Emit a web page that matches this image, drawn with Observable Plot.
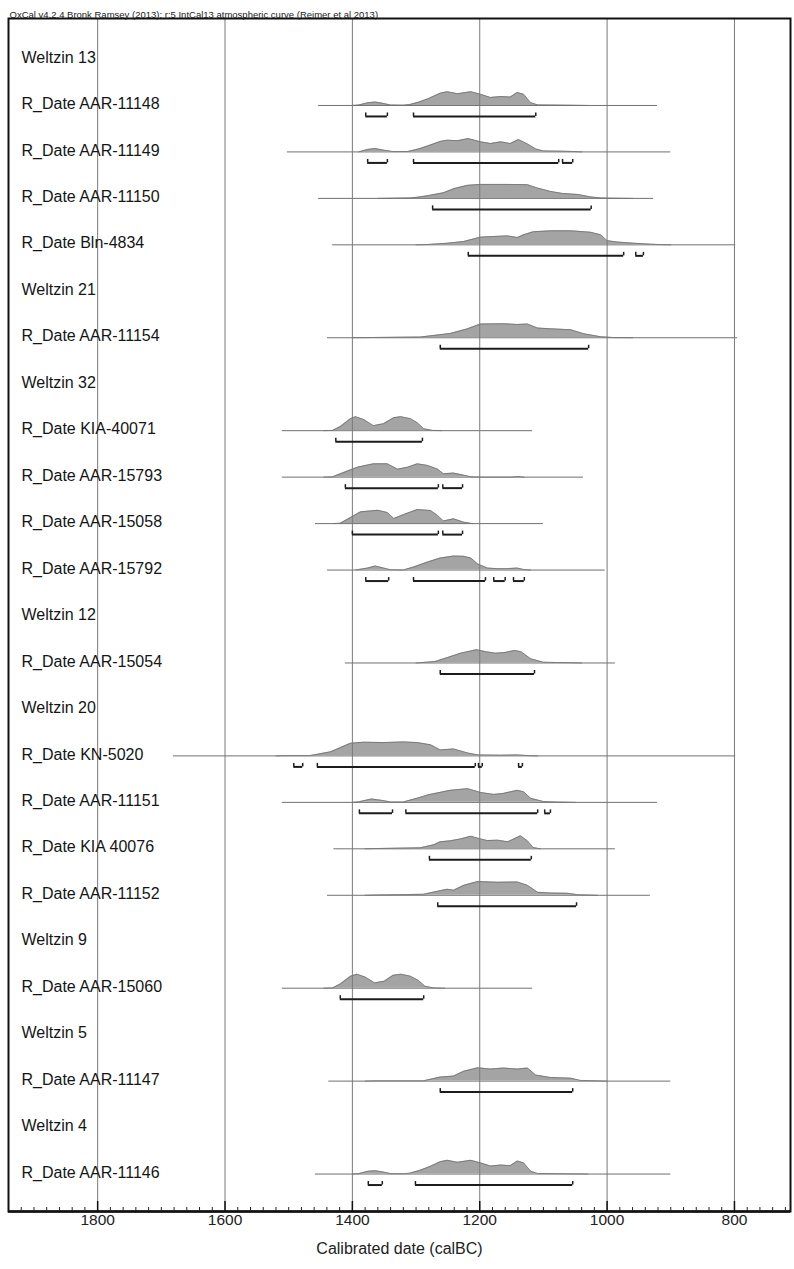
<!DOCTYPE html>
<html><head><meta charset="utf-8">
<script src="https://cdn.jsdelivr.net/npm/d3@7"></script>
<script src="https://cdn.jsdelivr.net/npm/@observablehq/plot@0.6"></script>
<style>body{margin:0;background:#fff;}</style>
</head><body><div id="chart"></div>
<script>
const headerText = "OxCal v4.2.4 Bronk Ramsey (2013); r:5 IntCal13 atmospheric curve (Reimer et al 2013)";
const axisTitle = "Calibrated date (calBC)";
const majorTicks = [1800, 1600, 1400, 1200, 1000, 800];

const rowLabels = [
  "Weltzin 13", "R_Date AAR-11148", "R_Date AAR-11149", "R_Date AAR-11150", "R_Date Bln-4834",
  "Weltzin 21", "R_Date AAR-11154", "Weltzin 32", "R_Date KIA-40071", "R_Date AAR-15793",
  "R_Date AAR-15058", "R_Date AAR-15792", "Weltzin 12", "R_Date AAR-15054", "Weltzin 20",
  "R_Date KN-5020", "R_Date AAR-11151", "R_Date KIA 40076", "R_Date AAR-11152", "Weltzin 9",
  "R_Date AAR-15060", "Weltzin 5", "R_Date AAR-11147", "Weltzin 4", "R_Date AAR-11146"
];

// thin line: calculated range of each date (calBC)
const spans = [
  ["R_Date AAR-11148", 1453, 921], ["R_Date AAR-11149", 1502, 900], ["R_Date AAR-11150", 1453, 927],
  ["R_Date Bln-4834", 1431, 798], ["R_Date AAR-11154", 1439, 795], ["R_Date KIA-40071", 1510, 1117],
  ["R_Date AAR-15793", 1510, 1037], ["R_Date AAR-15058", 1458, 1100], ["R_Date AAR-15792", 1439, 1003],
  ["R_Date AAR-15054", 1411, 987], ["R_Date KN-5020", 1681, 798], ["R_Date AAR-11151", 1510, 921],
  ["R_Date KIA 40076", 1429, 987], ["R_Date AAR-11152", 1439, 932], ["R_Date AAR-15060", 1510, 1117],
  ["R_Date AAR-11147", 1437, 900], ["R_Date AAR-11146", 1458, 900]
];

// 95.4% ranges (calBC)
const hpdRanges = [
  ["R_Date AAR-11148", 1379, 1345], ["R_Date AAR-11148", 1304, 1112],
  ["R_Date AAR-11149", 1376, 1345], ["R_Date AAR-11149", 1304, 1076], ["R_Date AAR-11149", 1070, 1054],
  ["R_Date AAR-11150", 1274, 1025],
  ["R_Date Bln-4834", 1218, 974], ["R_Date Bln-4834", 955, 943],
  ["R_Date AAR-11154", 1262, 1029],
  ["R_Date KIA-40071", 1426, 1290],
  ["R_Date AAR-15793", 1411, 1265], ["R_Date AAR-15793", 1258, 1227],
  ["R_Date AAR-15058", 1400, 1265], ["R_Date AAR-15058", 1258, 1227],
  ["R_Date AAR-15792", 1379, 1343], ["R_Date AAR-15792", 1304, 1191], ["R_Date AAR-15792", 1178, 1160], ["R_Date AAR-15792", 1147, 1130],
  ["R_Date AAR-15054", 1262, 1114],
  ["R_Date KN-5020", 1492, 1478], ["R_Date KN-5020", 1455, 1207], ["R_Date KN-5020", 1202, 1196], ["R_Date KN-5020", 1139, 1133],
  ["R_Date AAR-11151", 1389, 1337], ["R_Date AAR-11151", 1316, 1109], ["R_Date AAR-11151", 1098, 1089],
  ["R_Date KIA 40076", 1279, 1119],
  ["R_Date AAR-11152", 1266, 1048],
  ["R_Date AAR-15060", 1419, 1288],
  ["R_Date AAR-11147", 1262, 1054],
  ["R_Date AAR-11146", 1375, 1353], ["R_Date AAR-11146", 1301, 1054]
];

// probability profiles: [calBC, relative probability]
const AAR_11148 = [[1400,0],[1390,0.03],[1375,0.2],[1364,0.24],[1352,0.15],[1340,0.03],[1320,0.02],[1310,0.06],[1295,0.25],[1280,0.5],[1262,0.88],[1251,0.98],[1235,0.84],[1214,0.98],[1199,0.8],[1183,0.57],[1167,0.64],[1152,0.6],[1141,0.93],[1131,0.8],[1120,0.2],[1109,0.04],[1053,0.01],[1030,0]];
const AAR_11149 = [[1390,0],[1376,0.18],[1364,0.24],[1350,0.12],[1335,0.02],[1313,0.03],[1295,0.22],[1280,0.45],[1262,0.75],[1251,0.84],[1235,0.8],[1218,0.95],[1199,0.72],[1183,0.6],[1167,0.72],[1152,0.6],[1139,0.88],[1125,0.57],[1112,0.21],[1100,0.07],[1070,0.05],[1053,0.03],[1040,0]];
const AAR_11150 = [[1360,0],[1340,0.01],[1310,0.03],[1298,0.08],[1280,0.2],[1257,0.4],[1240,0.7],[1219,0.93],[1199,1.0],[1160,1.0],[1125,0.98],[1110,0.75],[1089,0.5],[1070,0.35],[1046,0.28],[1025,0.1],[1010,0.03],[990,0.01],[960,0]];
const Bln_4834 = [[1300,0],[1282,0.02],[1250,0.12],[1225,0.24],[1199,0.55],[1178,0.6],[1156,0.64],[1141,0.52],[1131,0.72],[1116,0.93],[1089,1.0],[1057,1.0],[1026,0.9],[1010,0.72],[1000,0.3],[984,0.2],[959,0.12],[932,0.05],[912,0.01],[900,0]];
const AAR_11154 = [[1400,0],[1367,0.02],[1293,0.05],[1246,0.31],[1219,0.64],[1199,0.98],[1163,1.0],[1141,0.95],[1125,0.98],[1109,0.69],[1089,0.64],[1057,0.57],[1037,0.29],[1010,0.07],[990,0.01],[960,0]];
const KIA_40071 = [[1445,0],[1431,0.02],[1419,0.29],[1403,0.86],[1395,1.0],[1382,0.79],[1367,0.36],[1351,0.5],[1335,0.93],[1324,1.0],[1309,0.86],[1298,0.57],[1288,0.14],[1274,0.02],[1260,0]];
const AAR_15793 = [[1445,0],[1431,0.02],[1408,0.43],[1392,0.71],[1367,0.95],[1345,0.95],[1329,0.57],[1313,0.71],[1298,0.95],[1282,0.84],[1266,0.57],[1257,0.24],[1241,0.29],[1225,0.14],[1214,0.02],[1195,0],[1150,0],[1141,0.04],[1130,0]];
const AAR_15058 = [[1430,0],[1419,0.02],[1403,0.43],[1387,0.84],[1360,0.95],[1345,0.79],[1335,0.36],[1320,0.64],[1298,1.0],[1277,0.93],[1266,0.57],[1257,0.19],[1241,0.34],[1225,0.1],[1212,0]];
const AAR_15792 = [[1395,0],[1376,0.14],[1364,0.29],[1351,0.14],[1340,0.02],[1320,0],[1304,0.21],[1282,0.57],[1262,0.86],[1241,1.0],[1225,0.98],[1214,0.86],[1203,0.43],[1188,0.14],[1172,0.1],[1156,0.1],[1141,0.14],[1131,0.04],[1120,0]];
const AAR_15054 = [[1300,0],[1270,0.1],[1250,0.4],[1230,0.7],[1205,0.95],[1190,0.8],[1175,0.7],[1160,0.75],[1145,0.9],[1135,0.8],[1120,0.3],[1100,0.05],[1060,0.02],[1040,0]];
const KN_5020 = [[1520,0],[1502,0.02],[1466,0.02],[1434,0.29],[1403,0.9],[1382,0.98],[1351,0.95],[1320,1.0],[1298,0.95],[1277,0.79],[1262,0.43],[1241,0.5],[1219,0.21],[1203,0.07],[1167,0.05],[1141,0.07],[1120,0.01],[1109,0]];
const AAR_11151 = [[1400,0],[1389,0.05],[1370,0.24],[1355,0.15],[1340,0.03],[1320,0.03],[1298,0.3],[1280,0.55],[1246,0.86],[1219,0.98],[1199,0.71],[1178,0.57],[1163,0.64],[1141,0.86],[1131,0.75],[1120,0.29],[1100,0.06],[1080,0.03],[1050,0]];
const KIA_40076 = [[1380,0],[1360,0.02],[1293,0.07],[1272,0.29],[1262,0.5],[1246,0.57],[1230,0.71],[1214,0.9],[1199,0.71],[1188,0.59],[1172,0.62],[1156,0.5],[1136,0.93],[1125,0.57],[1116,0.09],[1105,0]];
const AAR_11152 = [[1380,0],[1367,0.02],[1288,0.07],[1266,0.29],[1251,0.43],[1241,0.36],[1225,0.71],[1203,0.98],[1172,0.93],[1141,0.95],[1125,0.71],[1109,0.21],[1089,0.16],[1062,0.14],[1046,0.04],[1015,0]];
const AAR_15060 = [[1445,0],[1431,0.02],[1419,0.3],[1403,0.85],[1393,1.0],[1380,0.8],[1365,0.38],[1350,0.5],[1336,0.92],[1324,1.0],[1309,0.86],[1296,0.55],[1286,0.14],[1272,0.02],[1255,0]];
const AAR_11147 = [[1380,0],[1367,0.02],[1288,0.02],[1262,0.29],[1241,0.36],[1225,0.71],[1203,0.95],[1183,0.86],[1163,0.93],[1141,0.86],[1125,0.93],[1112,0.43],[1089,0.26],[1057,0.21],[1042,0.05],[1015,0.02],[1000,0]];
const AAR_11146 = [[1400,0],[1390,0.03],[1375,0.2],[1364,0.24],[1352,0.15],[1340,0.03],[1320,0.02],[1310,0.06],[1295,0.25],[1280,0.5],[1262,0.88],[1251,0.98],[1235,0.84],[1214,0.98],[1199,0.8],[1183,0.57],[1167,0.64],[1152,0.6],[1141,0.93],[1131,0.8],[1120,0.2],[1109,0.04],[1053,0.01],[1030,0]];

const curves = [
  ["R_Date AAR-11148", AAR_11148], ["R_Date AAR-11149", AAR_11149], ["R_Date AAR-11150", AAR_11150],
  ["R_Date Bln-4834", Bln_4834], ["R_Date AAR-11154", AAR_11154], ["R_Date KIA-40071", KIA_40071],
  ["R_Date AAR-15793", AAR_15793], ["R_Date AAR-15058", AAR_15058], ["R_Date AAR-15792", AAR_15792],
  ["R_Date AAR-15054", AAR_15054], ["R_Date KN-5020", KN_5020], ["R_Date AAR-11151", AAR_11151],
  ["R_Date KIA 40076", KIA_40076], ["R_Date AAR-11152", AAR_11152], ["R_Date AAR-15060", AAR_15060],
  ["R_Date AAR-11147", AAR_11147], ["R_Date AAR-11146", AAR_11146]
];

// ---- layout (pixels converted to row units) ----
const W = 794, Hpx = 1269;
const mL = 8, mR = 4, mT = 18, mB = 58;
const rowPx = 46.46, firstRowPx = 57;
const yTop = (mT - firstRowPx) / rowPx;
const yBot = (Hpx - mB - firstRowPx) / rowPx;
const u = px => px / rowPx;
const baseOff = u(1.5), peakH = u(14), barOff = u(12.5), capH = u(3.5);

const rowOf = new Map(rowLabels.map((l, i) => [l, i]));
const pts = curves.flatMap(([name, arr]) => arr.map(([year, p]) => ({name, year, p, row: rowOf.get(name)})));
const caps = hpdRanges.flatMap(d => [{name: d[0], x: d[1]}, {name: d[0], x: d[2]}]);
const minorTicks = d3.range(720, 1940, 20).filter(v => v % 200 !== 0);
const font = "'Liberation Sans', Arial, Helvetica, sans-serif";

const chart = Plot.plot({
  width: W, height: Hpx,
  marginLeft: mL, marginRight: mR, marginTop: mT, marginBottom: mB,
  style: {fontFamily: font, background: "#fff", color: "#111"},
  x: {domain: [1940, 712], range: [mL, W - mR]},
  y: {domain: [yTop, yBot], range: [mT, Hpx - mB], axis: null},
  marks: [
    Plot.ruleY(spans, {x1: d => d[1], x2: d => d[2], y: d => rowOf.get(d[0]) + baseOff, stroke: "#707070", strokeWidth: 1}),
    Plot.area(pts, {x1: "year", y1: d => d.row + baseOff, y2: d => d.row + baseOff - d.p * peakH, z: "name", fill: "#a4a4a4"}),
    Plot.line(pts, {x: "year", y: d => d.row + baseOff - d.p * peakH, z: "name", stroke: "#707070", strokeWidth: 0.8}),
    Plot.ruleX(majorTicks, {stroke: "#7a7a7a", strokeWidth: 1}),
    Plot.ruleY(hpdRanges, {x1: d => d[1], x2: d => d[2], y: d => rowOf.get(d[0]) + barOff, stroke: "#1c1c1c", strokeWidth: 2}),
    Plot.ruleX(caps, {x: "x", y1: d => rowOf.get(d.name) + barOff, y2: d => rowOf.get(d.name) + barOff - capH, stroke: "#1c1c1c", strokeWidth: 1.5}),
    Plot.text(rowLabels, {y: (d, i) => i, text: d => d, frameAnchor: "left", dx: 13, textAnchor: "start", fontSize: 16, fill: "#151515"}),
    Plot.frame({stroke: "#111", strokeWidth: 2}),
    Plot.ruleY([yBot], {stroke: "#111", strokeWidth: 2.5}),
    Plot.ruleX(majorTicks, {y1: yBot, y2: yBot - u(10), stroke: "#111", strokeWidth: 1.5}),
    Plot.ruleX(minorTicks, {y1: yBot, y2: yBot - u(4), stroke: "#222", strokeWidth: 1}),
    Plot.axisX(majorTicks, {tickSize: 0, tickPadding: 2, fontSize: 15.5, tickFormat: d => String(d), label: null, fill: "#222"}),
    Plot.text([axisTitle], {frameAnchor: "bottom", dy: 42, fontSize: 16, fill: "#222"}),
    Plot.text([headerText], {frameAnchor: "top-left", dx: 1, dy: -7, fontSize: 9.5, textAnchor: "start", fill: "#222"})
  ]
});
document.getElementById("chart").appendChild(chart);
</script>
</body></html>
